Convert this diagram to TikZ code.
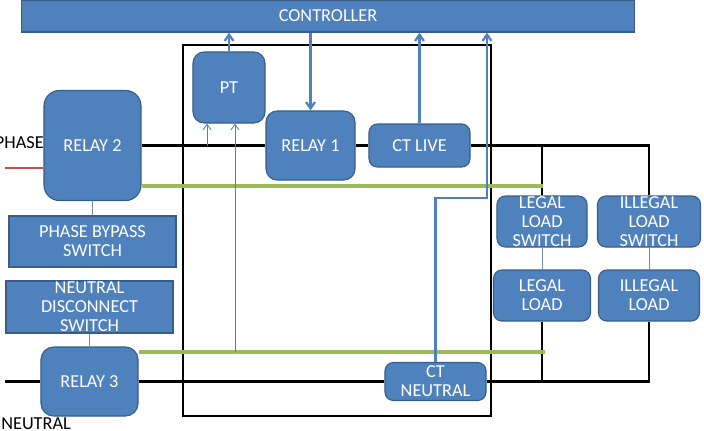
\documentclass[tikz,border=0pt]{standalone}
\usepackage{fontspec}
\setmainfont{Carlito}
\usetikzlibrary{arrows.meta}
\definecolor{boxblue}{HTML}{4F81BD}
\definecolor{boxedge}{HTML}{385D8A}
\definecolor{wiregreen}{HTML}{9BBB59}
\definecolor{wirered}{HTML}{C0504D}

\begin{document}
\begin{tikzpicture}[
  x=0.025cm, y=-0.025cm,
  block/.style={draw=boxedge,fill=boxblue,line width=0.8pt,rounded corners=6pt,inner sep=0pt,align=center,text=white,font=\fontsize{13}{13.5}\selectfont},
  panel/.style={block,rounded corners=0pt},
  tag/.style={inner sep=0pt,font=\fontsize{13}{13.5}\selectfont},
  frame/.style={draw=black,line width=1.2pt,inner sep=0pt},
  wire/.style={line width=1.9pt,black},
  live/.style={line width=1.9pt,wirered},
  earth/.style={line width=2.3pt,wiregreen},
  link/.style={line width=0.6pt,boxedge!70},
  signal/.style={-{Straight Barb[length=1.6mm,width=2.2mm]},line width=1.6pt,boxblue},
  sense/.style={-{Straight Barb[length=1.4mm,width=2mm]},line width=0.6pt,boxblue}
]
\useasboundingbox (0,0) rectangle (704,430);
\node[frame,minimum width=7.7cm,minimum height=9.275cm] (meter) at (337,230.5) {};
\node[panel,minimum width=15.3cm,minimum height=0.8cm] (controller) at (328,16) {CONTROLLER};
\node[block,rounded corners=8pt,minimum width=1.8cm,minimum height=1.775cm] (pt) at (229,87.5) {PT};
\node[block,rounded corners=8pt,minimum width=2.225cm,minimum height=1.725cm] (relay1) at (310.5,145.5) {RELAY 1};
\node[block,minimum width=2.525cm,minimum height=1.075cm] (ctlive) at (419.5,145.5) {CT LIVE};
\node[block,rounded corners=11pt,minimum width=2.425cm,minimum height=2.75cm] (relay2) at (92.5,145.5) {RELAY 2};
\node[panel,minimum width=4.175cm,minimum height=1.275cm] (bypass) at (92.5,241.5) {PHASE BYPASS\\SWITCH};
\node[panel,minimum width=4.175cm,minimum height=1.3cm] (disconnect) at (89.5,307) {NEUTRAL\\DISCONNECT\\SWITCH};
\node[block,rounded corners=9pt,minimum width=2.425cm,minimum height=1.725cm] (relay3) at (89.5,381.5) {RELAY 3};
\node[block,minimum width=2.525cm,minimum height=0.95cm] (ctneutral) at (435.5,381.5) {CT\\NEUTRAL};
\node[block,minimum width=2.25cm,minimum height=1.275cm] (legalsw) at (542,221.5) {LEGAL\\LOAD\\SWITCH};
\node[block,minimum width=2.575cm,minimum height=1.275cm] (illegalsw) at (649,221.5) {ILLEGAL\\LOAD\\SWITCH};
\node[block,minimum width=2.425cm,minimum height=1.275cm] (legalload) at (542,295.5) {LEGAL\\LOAD};
\node[block,minimum width=2.525cm,minimum height=1.275cm] (illegalload) at (649,295.5) {ILLEGAL\\LOAD};
\node[tag,anchor=east] (phase) at (44,143) {PHASE};
\node[tag,anchor=north west] (neutral) at (1,417) {NEUTRAL};

\coordinate (phasein) at (5,168);
\coordinate (neutralin) at (5,381.5);
\coordinate (greentop) at (543,186);
\coordinate (greenbot) at (545,352);
\coordinate (ptvolt) at (207,146);
\coordinate (ptsense) at (235,352);
\coordinate (ctbend) at (487,198);

\draw[wire] (relay2.east) -- (relay1.west);
\draw[wire] (relay1) -- (ctlive);
\draw[wire] (ctlive.east) -| (illegalsw.north);
\draw[wire] (legalsw.north) -- (legalsw.north |- ctlive.east);
\draw[wire] (neutralin) -- (relay3.west);
\draw[wire] (relay3.east) -- (ctneutral.west);
\draw[wire] (ctneutral.east) -| (legalload.south);
\draw[wire] (legalload.south |- ctneutral.east) -| (illegalload.south);
\draw[live] (phasein) -- (relay2.west |- phasein);
\draw[earth] (relay2.east |- greentop) -- (greentop);
\draw[earth] (relay3.east |- greenbot) -- (greenbot);
\draw[link] (relay2) -- (bypass);
\draw[link] (disconnect) -- (relay3);
\draw[link] (legalsw) -- (legalload);
\draw[link] (illegalsw) -- (illegalload);
\draw[signal] (pt.north) -- (pt.north |- controller.south);
\draw[signal] (controller.south -| relay1.north) -- (relay1.north);
\draw[signal] (ctlive.north) -- (ctlive.north |- controller.south);
\draw[signal] (ctneutral.north) |- (ctbend) -- (ctbend |- controller.south);
\draw[sense] (ptvolt) -- (ptvolt |- pt.south);
\draw[sense] (ptsense) -- (ptsense |- pt.south);
\end{tikzpicture}
\end{document}
